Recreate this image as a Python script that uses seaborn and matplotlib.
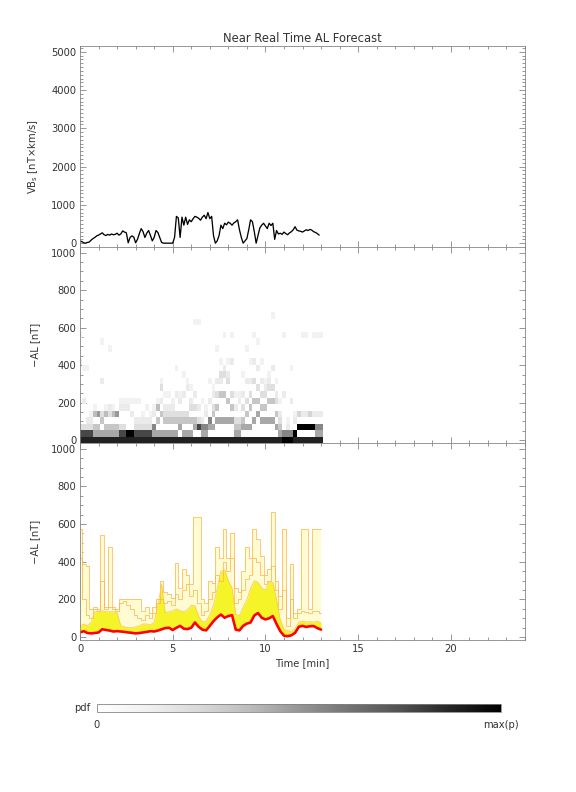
import numpy as np
import pandas as pd
import seaborn as sns
import matplotlib.pyplot as plt
from matplotlib.ticker import MultipleLocator
from matplotlib.cm import ScalarMappable
from matplotlib.colors import Normalize

# solar wind driver VBs [nT x km/s], one value every 0.1 min
vbs_step = 0.1
vbs = [60, 40, 10, 0, 20, 30, 80, 120, 150, 190,
       210, 240, 270, 220, 200, 230, 210, 240, 220, 230,
       260, 210, 240, 320, 290, 270, 10, 150, 190, 160,
       10, 100, 250, 380, 300, 150, 260, 330, 200, 60,
       150, 330, 280, 150, 20, 0, 0, 0, 0, 0,
       0, 150, 700, 660, 150, 680, 470, 680, 490, 610,
       560, 640, 700, 680, 650, 600, 680, 730, 640, 800,
       640, 700, 200, 0, 60, 200, 470, 380, 520, 480,
       550, 520, 470, 530, 560, 610, 350, 150, 0, 60,
       120, 350, 610, 560, 300, 0, 200, 400, 470, 520,
       450, 380, 520, 460, 520, 100, 330, 240, 260, 230,
       290, 250, 220, 270, 300, 350, 430, 340, 320, 310,
       290, 320, 350, 330, 360, 340, 300, 280, 250, 210]

# ensemble -AL forecast [nT], one value every 0.2 min
al_step = 0.2
al_low = [5, 8, 4, 10, 6, 3, 8, 12, 5, 7,
          4, 9, 6, 10, 3, 5, 8, 6, 11, 4,
          7, 5, 9, 3, 6, 10, 8, 4, 12, 6,
          5, 9, 7, 3, 8, 11, 6, 4, 10, 5,
          7, 9, 3, 6, 12, 8, 5, 4, 10, 7,
          6, 9, 3, 5, 11, 8, 4, 6, 10, 7,
          5, 9, 3, 8, 6, 4]
al_red = [25, 32, 22, 20, 22, 25, 42, 38, 35, 30,
          32, 30, 28, 25, 23, 20, 22, 25, 28, 32,
          30, 35, 42, 48, 50, 38, 50, 60, 45, 43,
          50, 78, 55, 40, 36, 60, 85, 105, 120, 103,
          112, 117, 40, 36, 60, 72, 78, 115, 128, 103,
          94, 100, 112, 70, 32, 8, 5, 10, 23, 55,
          60, 54, 58, 59, 48, 40]
al_q50 = [40, 50, 40, 50, 80, 80, 90, 85, 85, 80,
          80, 45, 42, 38, 36, 38, 40, 48, 50, 48,
          55, 100, 150, 90, 90, 90, 100, 100, 90, 95,
          110, 120, 80, 60, 60, 90, 125, 180, 230, 230,
          200, 190, 80, 75, 110, 135, 170, 200, 210, 180,
          170, 200, 200, 135, 60, 25, 20, 20, 35, 68,
          72, 68, 70, 70, 68, 58]
al_q75 = [60, 70, 60, 80, 135, 135, 140, 135, 135, 135,
          130, 60, 55, 50, 50, 55, 60, 70, 70, 65,
          80, 170, 280, 130, 135, 140, 150, 140, 135, 145,
          170, 165, 110, 81, 85, 120, 170, 260, 350, 357,
          300, 260, 120, 115, 160, 200, 260, 300, 290, 260,
          250, 295, 290, 200, 90, 40, 35, 30, 45, 80,
          85, 80, 82, 80, 85, 75]
al_mid = [420, 200, 120, 100, 150, 140, 300, 150, 160, 150,
          140, 180, 190, 170, 150, 120, 100, 90, 120, 100,
          130, 180, 200, 180, 190, 170, 230, 200, 250, 280,
          220, 250, 180, 120, 140, 200, 240, 330, 300, 400,
          350, 420, 180, 200, 250, 310, 330, 420, 400, 330,
          280, 300, 380, 250, 150, 250, 60, 200, 100, 130,
          140, 135, 130, 140, 140, 130]
al_max = [575, 390, 380, 150, 160, 150, 540, 160, 480, 160,
          150, 205, 205, 205, 205, 205, 205, 140, 160, 130,
          160, 200, 300, 240, 230, 210, 395, 260, 360, 330,
          280, 635, 635, 200, 180, 300, 290, 480, 420, 575,
          420, 550, 260, 240, 350, 480, 420, 575, 520, 430,
          330, 360, 665, 300, 220, 575, 100, 390, 130, 150,
          575, 575, 150, 575, 575, 575]
member_weight = [4, 2, 1.5, 1, 0.7, 0.5]

t_vbs = np.arange(len(vbs)) * vbs_step
t_al = np.arange(len(al_red)) * al_step

sns.set_style("ticks")
plt.rcParams['font.family'] = ['DejaVu Sans']
plt.rcParams['font.size'] = 10
plt.rcParams['text.color'] = '#333333'
plt.rcParams['axes.labelcolor'] = '#333333'

fig = plt.figure(figsize=(8, 11), dpi=72)
left, width = 80 / 576, 445 / 576
ax1 = fig.add_axes([left, 1 - 247 / 792, width, 201 / 792])
ax2 = fig.add_axes([left, 1 - 443 / 792, width, 196 / 792])
ax3 = fig.add_axes([left, 1 - 640 / 792, width, 197 / 792])


def style_axis(ax, ylim, ymajor, yminor):
    ax.set_xlim(0, 24)
    ax.set_ylim(*ylim)
    ax.xaxis.set_major_locator(MultipleLocator(5))
    ax.xaxis.set_minor_locator(MultipleLocator(1))
    ax.yaxis.set_major_locator(MultipleLocator(ymajor))
    ax.yaxis.set_minor_locator(MultipleLocator(yminor))
    ax.tick_params(which='both', direction='in', top=True, right=True,
                   colors='#808080', labelcolor='#333333', labelsize=10, width=0.8)
    ax.tick_params(which='major', length=6)
    ax.tick_params(which='minor', length=3)
    for sp in ax.spines.values():
        sp.set_color('#808080')
        sp.set_linewidth(0.8)
    ax.yaxis.set_label_coords(-0.09, 0.5)


# top: VBs
sns.lineplot(x=t_vbs, y=vbs, ax=ax1, color='black', lw=1.3, estimator=None)
style_axis(ax1, (-100, 5150), 1000, 100)
ax1.set_ylabel('VB$_\\mathrm{s}$ [nT×km/s]')
ax1.yaxis.set_label_coords(-0.09, 0.45)
ax1.set_title('Near Real Time AL Forecast', fontsize=11.5, color='#333333', pad=4)
ax1.tick_params(labelbottom=False)
ax1.set_xlabel('')

# middle: pdf of the ensemble
members = [al_low, al_red, al_q50, al_q75, al_mid, al_max]
pdf_df = pd.concat([pd.DataFrame({'time': t_al, 'al': m, 'w': w})
                    for m, w in zip(members, member_weight)], ignore_index=True)
sns.histplot(data=pdf_df, x='time', y='al', weights='w', ax=ax2,
             binwidth=(al_step, 35), binrange=((-0.1, 13.1), (-17.5, 1032.5)),
             cmap='Greys', vmin=0, vmax=4.5)
style_axis(ax2, (-15, 1030), 200, 50)
ax2.set_ylabel('\u2212AL [nT]')
ax2.set_xlabel('')
ax2.tick_params(labelbottom=False)

# bottom: ensemble spread
ax3.fill_between(t_al, al_red, al_max, step='mid', color='#FFFBD2', lw=0)
ax3.fill_between(t_al, al_red, al_q75, color='#F4F428', lw=0)
for arr in (al_max, al_mid):
    sns.lineplot(x=t_al, y=arr, ax=ax3, color='#FFB347', lw=0.8, alpha=0.9,
                 drawstyle='steps-mid', estimator=None)
sns.lineplot(x=t_al, y=al_q75, ax=ax3, color='#FFC060', lw=0.7, estimator=None)
sns.lineplot(x=t_al, y=al_red, ax=ax3, color='#FF0000', lw=2.6, estimator=None)
style_axis(ax3, (-15, 1030), 200, 50)
ax3.set_ylabel('\u2212AL [nT]')
ax3.set_xlabel('Time [min]', labelpad=5)

# colour bar for the pdf
cax = fig.add_axes([97 / 576, 1 - 712 / 792, 404 / 576, 8 / 792])
cb = fig.colorbar(ScalarMappable(norm=Normalize(0, 1), cmap='Greys'), cax=cax,
                  orientation='horizontal', ticks=[])
cb.outline.set_edgecolor('#808080')
cb.outline.set_linewidth(0.8)
fig.text(90 / 576, 1 - 708 / 792, 'pdf', ha='right', va='center', fontsize=10)
fig.text(97 / 576, 1 - 725 / 792, '0', ha='center', va='center', fontsize=10)
fig.text(501 / 576, 1 - 725 / 792, 'max(p)', ha='center', va='center', fontsize=10)

fig.savefig('out.png', dpi=72)
